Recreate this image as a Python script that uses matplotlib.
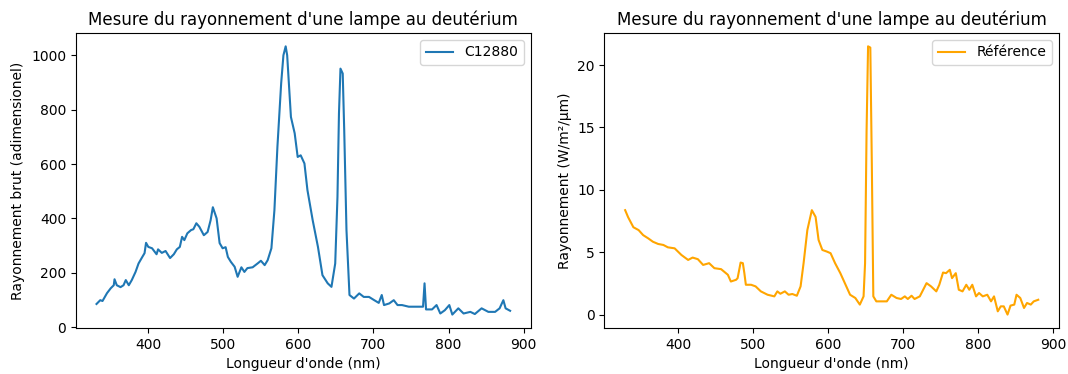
import matplotlib
matplotlib.use('Agg')
import matplotlib.pyplot as plt

# spectre mesure par le capteur C12880 (valeur brute)
lambda_c = [331, 336, 339, 345, 350, 354, 355, 358, 363, 367, 370, 374, 378, 383, 387,
            392, 395, 397, 400, 405, 411, 413, 418, 423, 429, 434, 438, 442, 445, 448,
            452, 457, 460, 464, 468, 474, 479, 483, 486, 491, 495, 499, 503, 506, 510,
            515, 519, 524, 528, 532, 539, 546, 550, 555, 559, 564, 568, 572, 577, 580,
            583, 585, 590, 595, 599, 603, 608, 612, 619, 626, 632, 639, 644, 649, 652,
            654, 656, 659, 661, 664, 668, 674, 681, 687, 694, 701, 707, 711, 714, 721,
            727, 732, 738, 747, 756, 762, 766, 768, 770, 778, 784, 789, 795, 801, 805,
            813, 820, 829, 835, 844, 853, 862, 868, 873, 876, 882]
c12880 = [85, 99, 96, 125, 143, 154, 176, 154, 147, 154, 173, 154, 173, 203, 234,
          258, 272, 310, 295, 290, 268, 286, 273, 280, 254, 268, 286, 295, 332, 320,
          345, 357, 360, 382, 369, 338, 350, 393, 441, 400, 309, 290, 294, 258, 240,
          222, 185, 220, 203, 217, 220, 235, 244, 228, 246, 290, 430, 663, 897, 1000,
          1033, 1000, 773, 713, 626, 632, 602, 504, 393, 295, 191, 161, 148, 234, 479,
          786, 951, 933, 724, 357, 118, 105, 124, 111, 111, 99, 89, 118, 81, 87,
          99, 81, 81, 75, 75, 75, 75, 161, 65, 65, 81, 50, 62, 81, 46,
          69, 50, 56, 48, 69, 56, 56, 69, 99, 69, 60]

# spectre de reference (W/m2/um)
lambda_r = [329, 333, 340, 347, 353, 360, 366, 373, 380, 386, 395, 404, 413, 419, 426,
            433, 441, 448, 457, 466, 470, 477, 479, 483, 486, 488, 490, 497, 503, 510,
            519, 528, 532, 536, 542, 547, 552, 558, 563, 567, 572, 578, 583, 587, 592,
            598, 603, 609, 616, 623, 629, 636, 642, 647, 649, 651, 653, 656, 658, 660,
            664, 671, 678, 684, 691, 697, 702, 706, 711, 715, 722, 731, 737, 744, 748,
            753, 757, 762, 765, 770, 774, 779, 784, 788, 792, 797, 801, 806, 812, 817,
            821, 826, 830, 834, 839, 843, 848, 851, 856, 861, 865, 870, 874, 880]
reference = [8.37, 7.8, 7.0, 6.77, 6.37, 6.1, 5.84, 5.66, 5.58, 5.39, 5.31, 4.78, 4.38, 4.57, 4.44,
             3.98, 4.12, 3.72, 3.64, 3.19, 2.65, 2.79, 2.92, 4.17, 4.12, 3.32, 2.39, 2.39, 2.26, 1.86,
             1.59, 1.46, 1.86, 1.67, 1.86, 1.59, 1.65, 1.51, 2.26, 4.12, 6.77, 8.37, 7.83, 5.98, 5.18,
             5.05, 4.92, 4.12, 3.32, 2.39, 1.59, 1.33, 0.8, 1.46, 4.12, 14.7, 21.5, 21.4, 12.1, 1.46,
             1.06, 1.06, 1.06, 1.59, 1.33, 1.25, 1.46, 1.25, 1.51, 1.25, 1.46, 2.52, 2.26, 1.86, 2.39,
             3.37, 3.32, 3.59, 2.92, 3.32, 1.99, 1.86, 2.39, 1.99, 2.39, 1.46, 1.73, 1.46, 1.59, 1.06,
             1.46, 0.26, 0.66, 0.66, 0.0, 0.72, 0.8, 1.59, 1.33, 0.53, 0.93, 0.8, 1.06, 1.19]

fig = plt.figure(figsize=(10.68, 3.74), dpi=100)
ax1 = fig.add_axes([0.071, 0.123, 0.426, 0.789])
ax2 = fig.add_axes([0.566, 0.123, 0.4255, 0.789])

ax1.plot(lambda_c, c12880, label="C12880")
ax1.set_title("Mesure du rayonnement d'une lampe au deutérium")
ax1.set_xlabel("Longueur d'onde (nm)")
ax1.set_ylabel("Rayonnement brut (adimensionel)")
ax1.legend(loc='upper right')

ax2.plot(lambda_r, reference, color='orange', label="Référence")
ax2.set_title("Mesure du rayonnement d'une lampe au deutérium")
ax2.set_xlabel("Longueur d'onde (nm)")
ax2.set_ylabel("Rayonnement (W/m²/µm)")
ax2.legend(loc='upper right')

fig.savefig('out.png')
